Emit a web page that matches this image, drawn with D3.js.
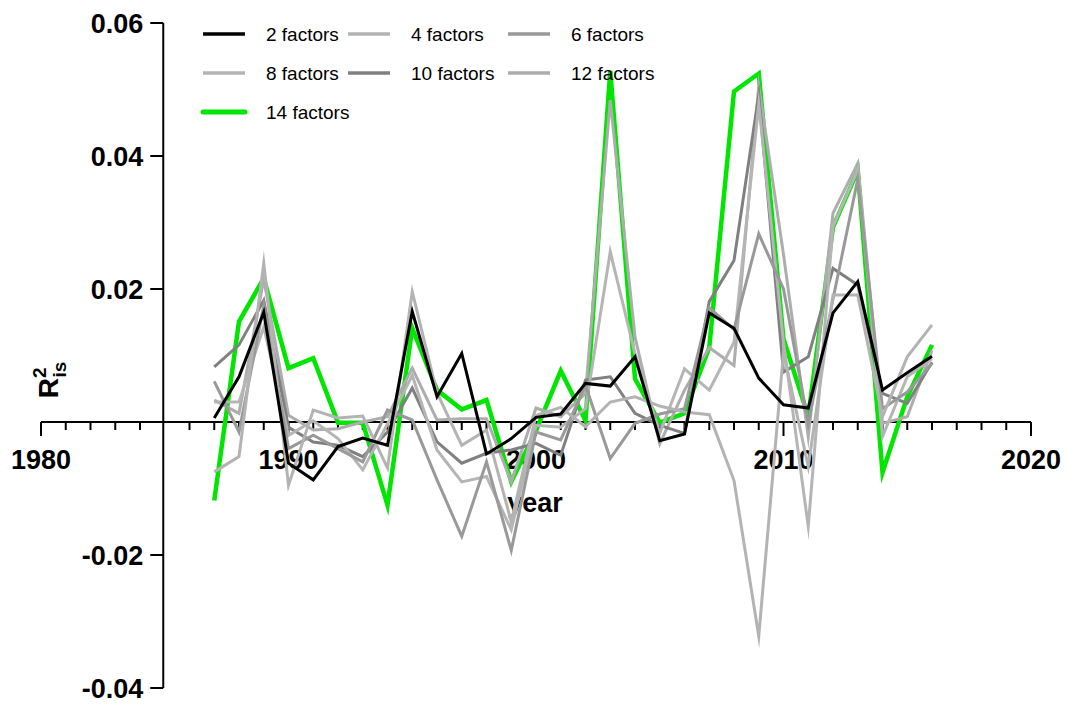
<!DOCTYPE html>
<html>
<head>
<meta charset="utf-8">
<script src="https://cdn.jsdelivr.net/npm/d3@7"></script>
<style>
  html, body { margin: 0; padding: 0; background: #fff; }
  svg { display: block; font-family: "Liberation Sans", Arial, Helvetica, sans-serif; }
</style>
</head>
<body>
<svg id="chart" width="1066" height="705"></svg>
<script>
// In-sample R² by year for models with different numbers of factors
const years = [1987, 1988, 1989, 1990, 1991, 1992, 1993, 1994, 1995, 1996,
               1997, 1998, 1999, 2000, 2001, 2002, 2003, 2004, 2005, 2006,
               2007, 2008, 2009, 2010, 2011, 2012, 2013, 2014, 2015, 2016];

const factors2  = [0.0006, 0.0068, 0.0165, -0.0062, -0.0087, -0.0037, -0.0024, -0.0035, 0.0166, 0.0038,
                   0.0103, -0.0048, -0.0025, 0.0007, 0.0012, 0.0058, 0.0054, 0.0098, -0.0028, -0.0018,
                   0.0164, 0.0141, 0.0066, 0.0026, 0.0021, 0.0164, 0.0211, 0.0048, 0.0074, 0.0099];
const factors4  = [-0.0075, -0.0052, 0.0239, -0.0095, 0.0018, 0.0006, 0.0009, -0.0069, 0.0196, 0.0044,
                   -0.0035, -0.0012, -0.0150, 0.0010, 0.0022, -0.0007, 0.0030, 0.0038, 0.0024, 0.0015,
                   0.0011, -0.0088, -0.0322, 0.0105, -0.0067, 0.0191, 0.0191, 0.0008, 0.0098, 0.0146];
const factors6  = [0.0061, -0.0015, 0.0175, -0.0040, -0.0020, -0.0040, -0.0060, 0.0018, 0.0003, -0.0087,
                   -0.0172, -0.0060, -0.0193, -0.0015, -0.0027, 0.0055, -0.0055, -0.0002, 0.0012, 0.0020,
                   0.0172, 0.0139, 0.0283, 0.0200, -0.0002, 0.0185, 0.0365, 0.0020, 0.0045, 0.0088];
const factors8  = [0.0030, 0.0030, 0.0143, -0.0020, 0.0002, -0.0025, -0.0072, -0.0003, 0.0070, -0.0042,
                   -0.0090, -0.0082, -0.0162, -0.0005, -0.0008, 0.0020, 0.0256, 0.0103, -0.0017, 0.0080,
                   0.0048, 0.0120, 0.0478, 0.0120, -0.0157, 0.0294, 0.0379, -0.0022, 0.0068, 0.0095];
const factors10 = [0.0083, 0.0116, 0.0183, -0.0008, -0.0030, -0.0035, -0.0052, -0.0015, 0.0051, -0.0030,
                   -0.0062, -0.0047, -0.0042, -0.0032, -0.0050, 0.0063, 0.0068, 0.0013, -0.0005, -0.0017,
                   0.0181, 0.0243, 0.0492, 0.0075, 0.0098, 0.0231, 0.0206, 0.0043, 0.0028, 0.0090];
const factors12 = [0.0033, 0.0013, 0.0215, 0.0010, -0.0012, -0.0010, 0.0000, 0.0008, 0.0081, 0.0003,
                   0.0005, 0.0005, -0.0090, 0.0021, 0.0008, 0.0043, 0.0484, 0.0128, -0.0033, 0.0048,
                   0.0112, 0.0085, 0.0505, 0.0252, -0.0022, 0.0314, 0.0389, -0.0002, 0.0008, 0.0108];
const factors14 = [-0.0118, 0.0151, 0.0216, 0.0081, 0.0096, -0.0001, -0.0001, -0.0125, 0.0141, 0.0048,
                   0.0019, 0.0033, -0.0090, -0.0013, 0.0077, 0.0002, 0.0528, 0.0065, -0.0001, 0.0013,
                   0.0112, 0.0497, 0.0524, 0.0125, 0.0008, 0.0293, 0.0378, -0.0076, 0.0038, 0.0116];

const seriesNames = ["2 factors", "4 factors", "6 factors", "8 factors", "10 factors", "12 factors", "14 factors"];
const seriesValues = [factors2, factors4, factors6, factors8, factors10, factors12, factors14];
const seriesColors = ["#000000", "#b3b3b3", "#999999", "#b5b5b5", "#808080", "#adadad", "#00e600"];
const seriesWidths = [3, 3, 3, 3, 3, 3, 4.5];

const xTickValues = [1980, 1990, 2000, 2010, 2020];
const yTickValues = [-0.04, -0.02, 0, 0.02, 0.04, 0.06];
const yTickLabels = ["-0.04", "-0.02", "", "0.02", "0.04", "0.06"];

const svg = d3.select("#chart");

const x = d3.scaleLinear().domain([1980, 2020]).range([41, 1031]);
const y = d3.scaleLinear().domain([-0.04, 0.06]).range([688, 23]);

const axisColor = "#000";

// y axis at 1985
const yAxisX = x(1985) - 1.5;
const yAxis = svg.append("g").attr("transform", `translate(${yAxisX},0)`);
yAxis.append("line")
  .attr("x1", 0).attr("x2", 0)
  .attr("y1", y(0.06)).attr("y2", y(-0.04))
  .attr("stroke", axisColor).attr("stroke-width", 2);
yAxis.selectAll("line.tick").data(yTickValues).join("line")
  .attr("class", "tick")
  .attr("x1", -13).attr("x2", 0)
  .attr("y1", d => y(d)).attr("y2", d => y(d))
  .attr("stroke", axisColor).attr("stroke-width", 2);
yAxis.selectAll("text").data(yTickValues).join("text")
  .attr("x", -20)
  .attr("y", d => y(d))
  .attr("dy", "0.36em")
  .attr("text-anchor", "end")
  .attr("font-size", 27)
  .attr("font-weight", "bold")
  .attr("fill", "#000")
  .text((d, i) => yTickLabels[i]);

// x axis along zero
const xAxis = svg.append("g").attr("transform", `translate(0,${y(0)})`);
xAxis.append("line")
  .attr("x1", x(1980)).attr("x2", x(2020))
  .attr("y1", 0).attr("y2", 0)
  .attr("stroke", axisColor).attr("stroke-width", 2);
const minorTicks = d3.range(1981, 2020).filter(v => v % 10 !== 0 && v !== 1985);
xAxis.selectAll("line.minor").data(minorTicks).join("line")
  .attr("class", "minor")
  .attr("x1", d => x(d)).attr("x2", d => x(d))
  .attr("y1", 0).attr("y2", 8)
  .attr("stroke", axisColor).attr("stroke-width", 2);
xAxis.selectAll("line.major").data(xTickValues).join("line")
  .attr("class", "major")
  .attr("x1", d => x(d)).attr("x2", d => x(d))
  .attr("y1", 0).attr("y2", 14)
  .attr("stroke", axisColor).attr("stroke-width", 2);
xAxis.selectAll("text").data(xTickValues).join("text")
  .attr("x", d => x(d))
  .attr("y", 47)
  .attr("text-anchor", "middle")
  .attr("font-size", 27)
  .attr("font-weight", "bold")
  .attr("fill", "#000")
  .text(d => d);

// axis titles
svg.append("text")
  .attr("x", x(2000) - 1)
  .attr("y", 512)
  .attr("text-anchor", "middle")
  .attr("font-size", 27)
  .attr("font-weight", "bold")
  .text("year");

const yTitle = svg.append("text")
  .attr("transform", `translate(58,380) rotate(-90)`)
  .attr("text-anchor", "middle")
  .attr("font-size", 28)
  .attr("font-weight", "bold");
yTitle.append("tspan").text("R");
yTitle.append("tspan").attr("font-size", 19).attr("dy", -12).text("2");
yTitle.append("tspan").attr("font-size", 19).attr("dx", -10).attr("dy", 20).text("is");

// series lines, 14 factors at the bottom and 2 factors on top
const line = d3.line()
  .x((d, i) => x(years[i]))
  .y(d => y(d));

const order = d3.range(seriesNames.length).reverse();
svg.append("g").selectAll("path").data(order).join("path")
  .attr("d", k => line(seriesValues[k]))
  .attr("fill", "none")
  .attr("stroke", k => seriesColors[k])
  .attr("stroke-width", k => seriesWidths[k])
  .attr("stroke-linejoin", "miter")
  .attr("stroke-miterlimit", 10);

// legend: three columns
const legendCols = [203, 348, 508];
const legendRows = [34, 73, 112];
const legend = svg.append("g");
const items = legend.selectAll("g").data(seriesNames).join("g")
  .attr("transform", (d, i) => `translate(${legendCols[i % 3]},${legendRows[Math.floor(i / 3)]})`);
items.append("line")
  .attr("x1", 0).attr("x2", 42)
  .attr("y1", 0).attr("y2", 0)
  .attr("stroke", (d, i) => seriesColors[i])
  .attr("stroke-width", (d, i) => seriesWidths[i] + 0.5)
  .attr("stroke-linecap", (d, i) => i === 6 ? "round" : "butt");
items.append("text")
  .attr("x", 63)
  .attr("dy", "0.35em")
  .attr("font-size", 19)
  .attr("fill", "#000")
  .text(d => d);
</script>
</body>
</html>
